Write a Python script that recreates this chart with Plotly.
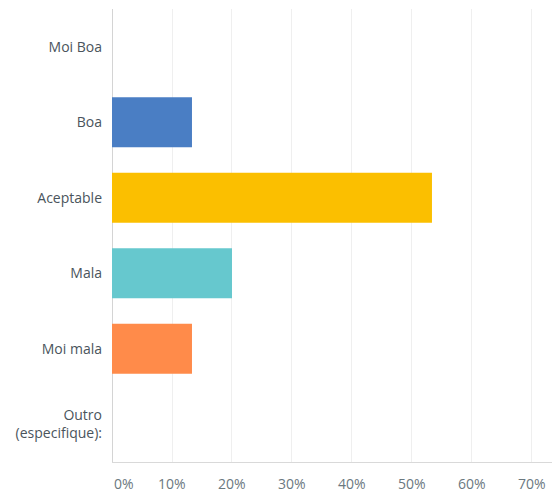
import plotly.graph_objects as go

categories = ["Moi Boa", "Boa", "Aceptable", "Mala", "Moi mala", "Outro<br>(especifique):"]
values = [0, 13.33, 53.33, 20.0, 13.33, 0]
colors = ["#4a7ec4", "#4a7ec4", "#fbbf00", "#66c8ce", "#ff8b4a", "#4a7ec4"]
tick_vals = [0, 10, 20, 30, 40, 50, 60, 70]
tick_text = ["0%", "10%", "20%", "30%", "40%", "50%", "60%", "70%"]

fig = go.Figure(go.Bar(
    x=values, y=categories, orientation="h",
    marker=dict(color=colors, line=dict(width=0)),
    hoverinfo="skip",
))

for v, t in zip(tick_vals, tick_text):
    fig.add_annotation(
        x=v, y=0, xref="x", yref="paper",
        text=t, showarrow=False,
        xanchor="left" if v == 0 else "center",
        yanchor="top", yshift=-10,
        font=dict(family="Open Sans", size=14, color="#6b787f"),
    )

fig.update_layout(
    width=552, height=482,
    margin=dict(l=104, r=0, t=1, b=28),
    paper_bgcolor="white", plot_bgcolor="white",
    showlegend=False, bargap=0.34,
    font=dict(family="Open Sans", size=14, color="#4a545c"),
    xaxis=dict(
        range=[0, 74.67], tickvals=tick_vals, showticklabels=False,
        showgrid=True, gridcolor="#efefef", gridwidth=1,
        zeroline=True, zerolinecolor="#d4d4d4", zerolinewidth=1,
        showline=True, linecolor="#d9d9d9", linewidth=1,
        fixedrange=True,
    ),
    yaxis=dict(
        autorange="reversed", showgrid=False, ticks="",
        ticklabelstandoff=9, showline=False, zeroline=False,
        tickfont=dict(family="Open Sans", size=14, color="#4a545c"),
    ),
)

fig.write_html("out.html")
